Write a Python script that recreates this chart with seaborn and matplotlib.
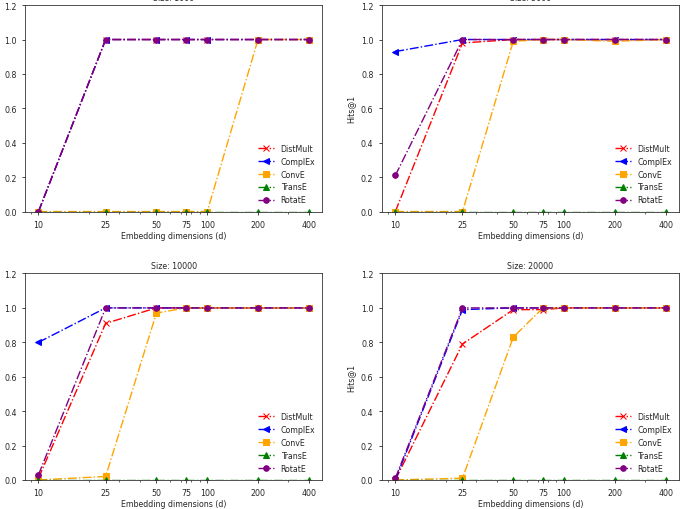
#####----- Hits@1 vs embedding dimension for several dataset sizes

import numpy as np
import pandas as pd
import matplotlib
matplotlib.use("Agg")
import matplotlib.pyplot as plt
import seaborn as sns

#####----- DATA
dims = [10, 25, 50, 75, 100, 200, 400]
sizes = [1000, 5000, 10000, 20000]
models = ['DistMult', 'ComplEx', 'ConvE', 'TransE', 'RotatE']

hits_1000 = {
    'DistMult': [0.0, 1.0, 1.0, 1.0, 1.0, 1.0, 1.0],
    'ComplEx':  [0.0, 1.0, 1.0, 1.0, 1.0, 1.0, 1.0],
    'ConvE':    [0.0, 0.0, 0.0, 0.0, 0.0, 1.0, 1.0],
    'TransE':   [0.0, 0.0, 0.0, 0.0, 0.0, 0.0, 0.0],
    'RotatE':   [0.0, 1.0, 1.0, 1.0, 1.0, 1.0, 1.0],
}
hits_5000 = {
    'DistMult': [0.0, 0.98, 1.0, 1.0, 1.0, 1.0, 1.0],
    'ComplEx':  [0.93, 1.0, 1.0, 1.0, 1.0, 1.0, 1.0],
    'ConvE':    [0.0, 0.0, 0.99, 1.0, 1.0, 0.99, 1.0],
    'TransE':   [0.0, 0.0, 0.0, 0.0, 0.0, 0.0, 0.0],
    'RotatE':   [0.21, 1.0, 1.0, 1.0, 1.0, 1.0, 1.0],
}
hits_10000 = {
    'DistMult': [0.01, 0.91, 1.0, 1.0, 1.0, 1.0, 1.0],
    'ComplEx':  [0.80, 1.0, 1.0, 1.0, 1.0, 1.0, 1.0],
    'ConvE':    [0.0, 0.02, 0.97, 1.0, 1.0, 1.0, 1.0],
    'TransE':   [0.0, 0.0, 0.0, 0.0, 0.0, 0.0, 0.0],
    'RotatE':   [0.03, 1.0, 1.0, 1.0, 1.0, 1.0, 1.0],
}
hits_20000 = {
    'DistMult': [0.0, 0.79, 0.99, 0.99, 1.0, 1.0, 1.0],
    'ComplEx':  [0.0, 0.99, 1.0, 1.0, 1.0, 1.0, 1.0],
    'ConvE':    [0.0, 0.01, 0.83, 1.0, 1.0, 1.0, 1.0],
    'TransE':   [0.0, 0.0, 0.0, 0.0, 0.0, 0.0, 0.0],
    'RotatE':   [0.01, 1.0, 1.0, 1.0, 1.0, 1.0, 1.0],
}
all_hits = [hits_1000, hits_5000, hits_10000, hits_20000]

colors = {'DistMult': 'red', 'ComplEx': 'blue', 'ConvE': 'orange', 'TransE': 'green', 'RotatE': 'purple'}
markers = {'DistMult': 'x', 'ComplEx': '<', 'ConvE': 's', 'TransE': '^', 'RotatE': 'o'}

#####----- PLOT
sns.set_style("ticks")
plt.rcParams['font.family'] = ['DejaVu Sans']
plt.rcParams['font.size'] = 5.7

fig, axes = plt.subplots(2, 2, figsize=(6.84, 5.1), dpi=100)
fig.subplots_adjust(left=0.0365, right=0.993, top=0.988, bottom=0.057, wspace=0.2, hspace=0.30)

for ax, size, hits in zip(axes.flat, sizes, all_hits):
    for m in models:
        sns.lineplot(x=dims, y=hits[m], ax=ax, color=colors[m], marker=markers[m],
                     linestyle='-.', linewidth=1.0, markersize=4, markeredgecolor=colors[m],
                     label=m)
    ax.set_xscale('log')
    ax.set_xticks(dims)
    ax.set_xticklabels([str(d) for d in dims])
    ax.set_ylim(0, 1.2)
    ax.set_yticks(np.arange(0, 1.21, 0.2))
    ax.tick_params(labelsize=5.7, length=2.5, width=0.6)
    ax.tick_params(which='minor', length=1.5, width=0.5)
    for sp in ax.spines.values():
        sp.set_linewidth(0.6)
        sp.set_color('#333333')
    ax.set_xlabel('Embedding dimensions (d)', fontsize=5.7, labelpad=1.5)
    ax.set_ylabel('Hits@1', fontsize=5.7)
    ax.set_title(f'Size: {size}', fontsize=5.7, pad=4)
    ax.legend(loc='lower right', frameon=False, fontsize=5.7, handlelength=2)

fig.savefig('out.png', dpi=100)
